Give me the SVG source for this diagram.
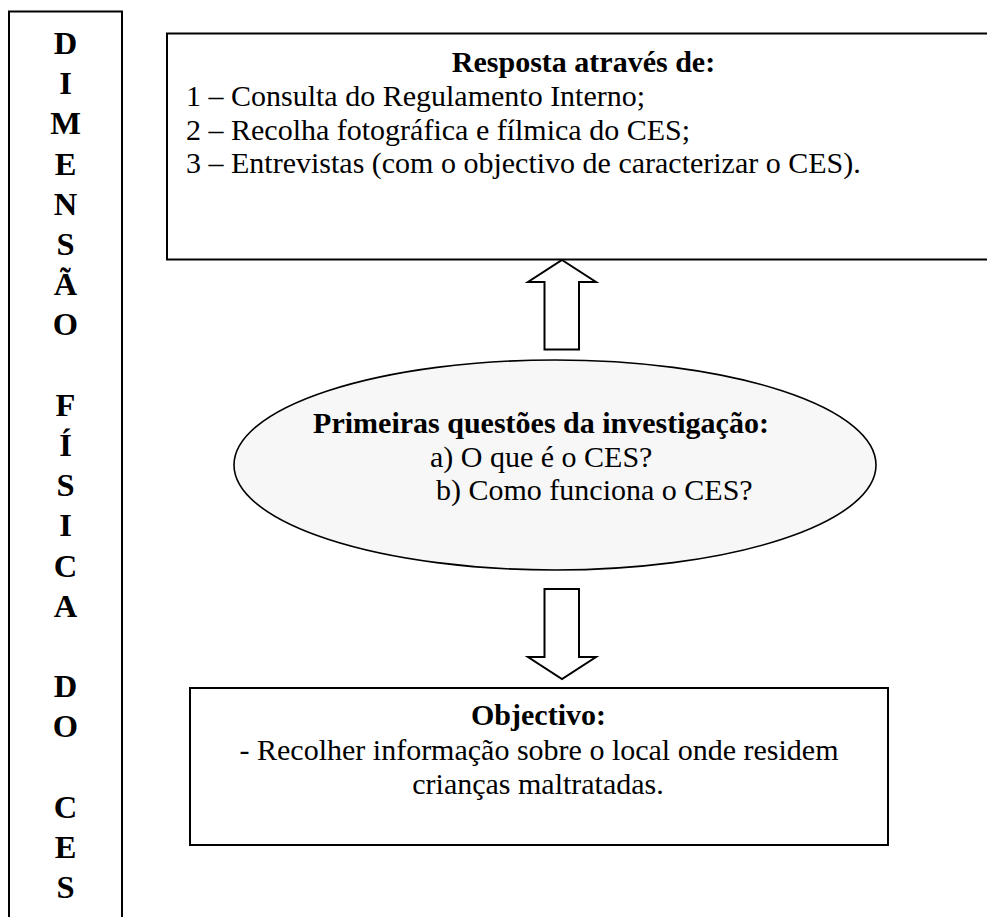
<svg xmlns="http://www.w3.org/2000/svg" width="987" height="917" viewBox="0 0 987 917">
<style>
.box{fill:#ffffff;stroke:#000000;stroke-width:2}
.ell{fill:#f7f7f7;stroke:#000000;stroke-width:1.6}
.arr{fill:#ffffff;stroke:#000000;stroke-width:2;stroke-linejoin:miter}
.t{font-family:"Liberation Serif","Times New Roman",serif;font-size:30px;fill:#000}
.b{font-weight:bold}
.c{text-anchor:middle}
.v{font-family:"Liberation Serif","Times New Roman",serif;font-size:32.5px;font-weight:bold;text-anchor:middle;fill:#000}
</style>
<rect width="987" height="917" fill="#ffffff"/>
<g id="side">
<rect class="box" x="9" y="11.5" width="113" height="930"/>
<text class="v" x="65.5" y="54">D</text>
<text class="v" x="65.5" y="94.2">I</text>
<text class="v" x="65.5" y="134.4">M</text>
<text class="v" x="65.5" y="174.6">E</text>
<text class="v" x="65.5" y="214.8">N</text>
<text class="v" x="65.5" y="255">S</text>
<text class="v" x="65.5" y="295.2">Ã</text>
<text class="v" x="65.5" y="335.4">O</text>
<text class="v" x="65.5" y="415.8">F</text>
<text class="v" x="65.5" y="456">Í</text>
<text class="v" x="65.5" y="496.2">S</text>
<text class="v" x="65.5" y="536.4">I</text>
<text class="v" x="65.5" y="576.6">C</text>
<text class="v" x="65.5" y="616.8">A</text>
<text class="v" x="65.5" y="697.2">D</text>
<text class="v" x="65.5" y="737.4">O</text>
<text class="v" x="65.5" y="817.8">C</text>
<text class="v" x="65.5" y="858">E</text>
<text class="v" x="65.5" y="898.2">S</text>
</g>
<g id="resposta">
<rect class="box" x="167" y="33.5" width="840" height="226"/>
<text class="t b c" x="583.5" y="72">Resposta através de:</text>
<text class="t" x="186" y="106">1 – Consulta do Regulamento Interno;</text>
<text class="t" x="186" y="139.5">2 – Recolha fotográfica e fílmica do CES;</text>
<text class="t" x="186" y="173">3 – Entrevistas (com o objectivo de caracterizar o CES).</text>
</g>
<g id="questoes">
<ellipse class="ell" cx="555" cy="465" rx="321" ry="105"/>
<text class="t b c" x="541" y="433">Primeiras questões da investigação:</text>
<text class="t" x="430" y="467">a) O que é o CES?</text>
<text class="t" x="436" y="500">b) Como funciona o CES?</text>
</g>
<g id="objectivo">
<rect class="box" x="190" y="688" width="698" height="157"/>
<text class="t b c" x="538.5" y="725">Objectivo:</text>
<text class="t c" x="539" y="760">- Recolher informação sobre o local onde residem</text>
<text class="t c" x="538" y="794">crianças maltratadas.</text>
</g>
<g id="connectors">
<polygon class="arr" points="562,260 596,282 579,282 579,349.5 544.5,349.5 544.5,282 528,282"/>
<polygon class="arr" points="544.5,589 579,589 579,657 596,657 562,679 528,657 544.5,657"/>
</g>
</svg>
